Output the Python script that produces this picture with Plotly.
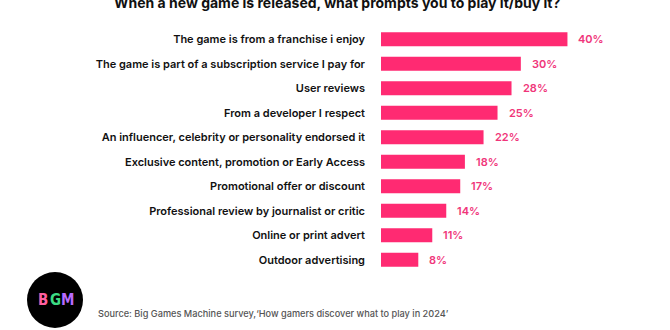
import plotly.graph_objects as go

# Survey answers, top to bottom
categories = [
    "The game is from a franchise i enjoy",
    "The game is part of a subscription service I pay for",
    "User reviews",
    "From a developer I respect",
    "An influencer, celebrity or personality endorsed it",
    "Exclusive content, promotion or Early Access",
    "Promotional offer or discount",
    "Professional review by journalist or critic",
    "Online or print advert",
    "Outdoor advertising",
]
values = [40, 30, 28, 25, 22, 18, 17, 14, 11, 8]
value_labels = [f"{v}%" for v in values]

title_text = "When a new game is released, what prompts you to play it/buy it?"
source_text = "Source: Big Games Machine survey,\u2018How gamers discover what to play in 2024\u2019"

PINK = "#FF2A72"
LABEL_PINK = "#F0357A"
FONT = "Inter, 'Noto Sans', sans-serif"

W, H = 670, 330
ML, MR, MT, MB = 381, 0, 27, 58
PW, PH = W - ML - MR, H - MT - MB


def px_x(px):
    """Pixel column -> paper x."""
    return (px - ML) / PW


def px_y(py):
    """Pixel row (from top) -> paper y."""
    return (H - MB - py) / PH


fig = go.Figure()
fig.add_trace(go.Bar(
    x=values,
    y=categories,
    orientation="h",
    marker=dict(color=PINK, line=dict(width=0)),
    hoverinfo="skip",
))

# Percentage labels at the end of each bar
for cat, v, lab in zip(categories, values, value_labels):
    fig.add_annotation(
        x=v, y=cat, xref="x", yref="y", text=lab, showarrow=False,
        xanchor="left", xshift=9,
        font=dict(family=FONT, size=11, color=LABEL_PINK, weight=600),
    )

# Title, partly running off the top edge
fig.add_annotation(
    x=px_x(337), y=px_y(2), xref="paper", yref="paper", text=title_text,
    showarrow=False, xanchor="center", yanchor="middle",
    font=dict(family=FONT, size=14, color="#111111", weight=700),
)

# Logo: black disc with coloured letters
fig.add_shape(
    type="circle", xref="paper", yref="paper",
    x0=px_x(27), x1=px_x(83), y0=px_y(328), y1=px_y(272),
    fillcolor="#000000", line=dict(width=0),
)
logo_letters = [("B", "#FF5FA0", 43), ("G", "#3DDC84", 55), ("M", "#B86BFF", 67)]
for ch, col, px in logo_letters:
    fig.add_annotation(
        x=px_x(px), y=px_y(300), xref="paper", yref="paper", text=ch,
        showarrow=False, xanchor="center", yanchor="middle",
        font=dict(family="'DejaVu Sans Condensed', 'DejaVu Sans'", size=15, color=col, weight=700),
    )

# Source line
fig.add_annotation(
    x=px_x(96), y=px_y(313), xref="paper", yref="paper", text=source_text,
    showarrow=False, xanchor="left", yanchor="middle",
    font=dict(family=FONT, size=9.2, color="#555555", weight=500),
)

fig.update_layout(
    width=W, height=H,
    margin=dict(l=ML, r=MR, t=MT, b=MB, pad=0),
    paper_bgcolor="white", plot_bgcolor="white",
    showlegend=False,
    bargap=0.43,
    xaxis=dict(range=[0, 62], visible=False, fixedrange=True),
    yaxis=dict(
        autorange="reversed", showgrid=False, zeroline=False, showline=False,
        ticks="", ticklabelstandoff=15,
        tickfont=dict(family=FONT, size=11, color="#111111", weight=600),
    ),
)

fig.write_html("out.html")
